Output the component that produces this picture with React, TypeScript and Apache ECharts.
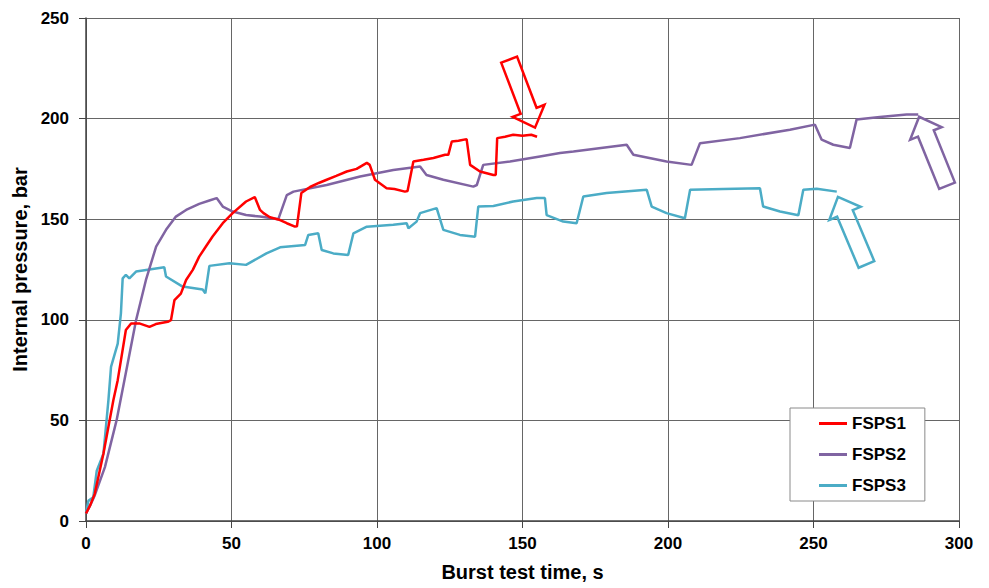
import React, { useEffect, useRef } from "react";
import * as echarts from "echarts";

// FSPS1 (red)
const fsps1Time = [0, 1.5, 3, 6, 9.4, 10.9, 13.7, 15.5, 18.3, 21.8, 24, 28.1, 29.2, 30.4, 32.6, 34.4, 36.7, 38.9, 41.2, 43.5, 47, 50.4, 55, 58, 59.8, 61, 63.2, 66.7, 69, 71.8, 72.5, 74, 77, 80, 82.7, 86, 89.6, 93, 96.5, 97.5, 99.3, 103.3, 106, 109.6, 110.5, 112.5, 116, 119.4, 123.4, 124.5, 125.7, 128, 130.8, 132, 135.4, 140, 140.8, 141.3, 144, 146.8, 150, 153, 155];
const fsps1Pressure = [3.7, 8, 13.5, 33.5, 60, 70, 94.9, 98.2, 98.2, 96.5, 97.9, 99, 99.8, 109.8, 113, 119.8, 124.8, 131.4, 136.4, 141.4, 148, 153, 158.8, 161, 154.6, 153, 151, 149.6, 148, 146.3, 146.5, 163, 166, 168, 169.6, 171.5, 173.7, 175, 178, 177, 169.6, 165.4, 165, 163.7, 164, 178.7, 179.5, 180.4, 182, 182, 188.6, 189, 189.8, 177, 173.7, 172, 172, 190.3, 191, 192, 191.5, 192, 191];

// FSPS2 (purple)
const fsps2Time = [0, 1.5, 3, 6.5, 10.5, 13.2, 17.2, 20.6, 24.1, 27.5, 30.9, 34.4, 38.9, 42.4, 44.9, 47, 50.4, 55, 59.8, 66.1, 69, 71.3, 82.7, 94.2, 105.6, 114.8, 117, 122.8, 133.1, 134.3, 136.5, 145.7, 156, 162.9, 167.5, 185.8, 188.1, 199.5, 208.1, 211, 224.7, 241.9, 250.5, 252.8, 256.8, 262.5, 264.8, 272.8, 282, 286];
const fsps2Pressure = [3.7, 8, 12.7, 26.8, 50, 70, 99.8, 119.8, 136.4, 144.7, 151.3, 154.6, 157.6, 159.3, 160.5, 156.3, 153.8, 152.1, 151.3, 150, 162, 163.7, 167, 171.2, 174.5, 176.2, 172, 169.6, 166.2, 167, 177, 178.7, 181.2, 182.9, 183.7, 187, 182, 178.7, 177, 187.8, 190.3, 194.5, 197, 189.5, 187, 185.4, 199.5, 200.8, 202, 202];

// FSPS3 (cyan)
const fsps3Time = [0, 0.8, 2.5, 3.7, 6, 7.7, 8.6, 10.9, 12, 12.6, 13.7, 14.9, 17.2, 26.9, 27.5, 33.2, 40.1, 41, 42.4, 49.3, 55, 62, 66.7, 75.3, 76.4, 79.8, 81, 85, 90.1, 91.9, 96.5, 105.6, 110.2, 110.8, 113.6, 114.8, 120.5, 122.8, 128.5, 133.7, 134.8, 140, 146.8, 154.9, 157.7, 158.3, 164, 168.6, 170.9, 178.9, 192.7, 194.4, 199.5, 205.8, 207.6, 219, 231.6, 232.7, 238.5, 244.8, 246.5, 251.1, 258];
const fsps3Pressure = [3.7, 10, 11.8, 25, 33.5, 60, 76.6, 88.2, 103.2, 120.6, 122.3, 120.6, 124, 126.1, 121.5, 116.5, 115.1, 113.2, 126.8, 128.1, 127.3, 133, 136, 137.2, 142.2, 143, 134.7, 133, 132.2, 143, 146.3, 147.2, 148, 145.5, 148.8, 153, 155.5, 144.7, 142.2, 141.3, 156.3, 156.6, 158.8, 160.5, 160.5, 152, 148.8, 148, 161.3, 163, 164.6, 156.3, 153, 150.5, 164.6, 165, 165.4, 156.3, 153.8, 152, 164.6, 165.1, 163.7];

const seriesNames = ["FSPS1", "FSPS2", "FSPS3"];
const seriesColors = ["#FF0000", "#8064A2", "#4BACC6"];

// annotation arrows (data coords): tip and tail-centre
const arrowTips = [[154.3, 195.5], [286.3, 200.9], [258.4, 161.1]];
const arrowTails = [[145.4, 229.3], [295.9, 166.6], [268.2, 127.5]];

const FONT = "'Liberation Sans', Arial, sans-serif";

function zip(t: number[], p: number[]) {
  return t.map((v, i) => [v, p[i]]);
}

function arrowPoints(tip: number[], tail: number[]) {
  const headLen = 18, headHalf = 17, shaftHalf = 8.5;
  const dx = tip[0] - tail[0], dy = tip[1] - tail[1];
  const L = Math.hypot(dx, dy);
  const ux = dx / L, uy = dy / L;
  const nx = -uy, ny = ux;
  const bx = tip[0] - ux * headLen, by = tip[1] - uy * headLen;
  return [
    [tail[0] + nx * shaftHalf, tail[1] + ny * shaftHalf],
    [bx + nx * shaftHalf, by + ny * shaftHalf],
    [bx + nx * headHalf, by + ny * headHalf],
    [tip[0], tip[1]],
    [bx - nx * headHalf, by - ny * headHalf],
    [bx - nx * shaftHalf, by - ny * shaftHalf],
    [tail[0] - nx * shaftHalf, tail[1] - ny * shaftHalf],
  ];
}

export default function App() {
  const ref = useRef<HTMLDivElement>(null);
  useEffect(() => {
    if (!ref.current) return;
    const chart = echarts.init(ref.current, null, { renderer: "svg" });
    const data = [zip(fsps1Time, fsps1Pressure), zip(fsps2Time, fsps2Pressure), zip(fsps3Time, fsps3Pressure)];
    chart.setOption({
      animation: false,
      backgroundColor: "#ffffff",
      grid: { left: 86, right: 30, top: 18, bottom: 67, containLabel: false },
      legend: {
        orient: "vertical",
        left: 790,
        top: 408,
        data: seriesNames,
        icon: "rect",
        itemWidth: 28,
        itemHeight: 3,
        itemGap: 14,
        padding: [7, 19, 7, 29],
        backgroundColor: "#ffffff",
        borderColor: "#8a8a8a",
        borderWidth: 1,
        textStyle: { fontFamily: FONT, fontWeight: "bold", fontSize: 17, color: "#000" },
      },
      xAxis: {
        type: "value",
        min: 0,
        max: 300,
        interval: 50,
        name: "Burst test time, s",
        nameLocation: "middle",
        nameGap: 41,
        nameTextStyle: { fontFamily: FONT, fontWeight: "bold", fontSize: 20, color: "#000" },
        axisLine: { show: true, onZero: false, lineStyle: { color: "#444", width: 1.5 } },
        axisTick: { show: true, length: 7, lineStyle: { color: "#444" } },
        axisLabel: { margin: 14, fontFamily: FONT, fontWeight: "bold", fontSize: 17, color: "#000" },
        splitLine: { show: true, lineStyle: { color: "#666", width: 1 } },
      },
      yAxis: {
        type: "value",
        min: 0,
        max: 250,
        interval: 50,
        name: "Internal pressure, bar",
        nameLocation: "middle",
        nameGap: 53,
        nameTextStyle: { fontFamily: FONT, fontWeight: "bold", fontSize: 20, color: "#000" },
        axisLine: { show: true, onZero: false, lineStyle: { color: "#444", width: 1.5 } },
        axisTick: { show: true, length: 7, lineStyle: { color: "#444" } },
        axisLabel: { margin: 17, fontFamily: FONT, fontWeight: "bold", fontSize: 17, color: "#000" },
        splitLine: { show: true, lineStyle: { color: "#666", width: 1 } },
      },
      series: seriesNames.map((name, i) => ({
        name,
        type: "line",
        data: data[i],
        showSymbol: false,
        symbol: "none",
        color: seriesColors[i],
        lineStyle: { color: seriesColors[i], width: 2.5 },
        z: 3 + (2 - i),
      })),
    });
    const graphics = arrowTips.map((tip, i) => {
      const pt = chart.convertToPixel({ gridIndex: 0 }, tip) as number[];
      const pl = chart.convertToPixel({ gridIndex: 0 }, arrowTails[i]) as number[];
      return {
        type: "polygon",
        shape: { points: arrowPoints(pt, pl) },
        style: { fill: "none", stroke: seriesColors[i], lineWidth: 2.5 },
        z: 10,
      };
    });
    chart.setOption({ graphic: graphics });
    return () => chart.dispose();
  }, []);
  return (
    <div
      ref={ref}
      style={{ position: "absolute", left: 0, top: 0, width: 989, height: 588, background: "#fff" }}
    />
  );
}
